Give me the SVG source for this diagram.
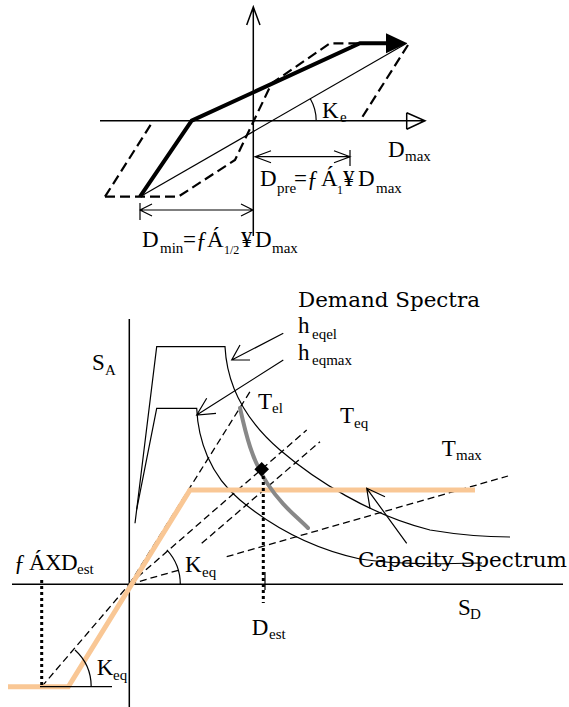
<svg xmlns="http://www.w3.org/2000/svg" width="569" height="707" viewBox="0 0 569 707">
<style>
.t{font-family:"Liberation Serif","Times New Roman",serif;font-size:23px;fill:#000}
.s{font-size:15px}
.w{font-family:"DejaVu Serif","Liberation Serif",serif;font-size:20.5px;fill:#000}
.ln{stroke:#000;stroke-width:1.5;fill:none}
.thin{stroke:#000;stroke-width:1.2;fill:none}
.dash{stroke:#000;stroke-width:1.3;stroke-dasharray:7 4;fill:none}
.tdash{stroke:#000;stroke-width:2.2;stroke-dasharray:10 5;fill:none}
.thick{stroke:#000;stroke-width:4;fill:none}
.dot{stroke:#000;stroke-width:3;stroke-dasharray:3 3;fill:none}
.cap{stroke:#F9C795;stroke-width:5;fill:none}
.gray{stroke:#888;stroke-width:4;fill:none;stroke-linecap:round}
</style>
<rect width="569" height="707" fill="#fff"/>
<!-- TOP HYSTERESIS -->
<g id="top-axes">
<path class="ln" d="M253.3,7 V236 M246.7,25 L253.3,7 L260,25"/>
<path class="ln" d="M100,120.7 H425 M406.7,112.7 L425,120.7 L406.7,129.3 M406.7,112.7 V129.3"/>
</g>
<g id="top-loop">
<path class="tdash" d="M105,196.7 L153.3,120.7"/>
<path class="tdash" d="M105,196.7 H178.3 L235,160 L271.7,83.3 L330,43.3 H360"/>
<path class="tdash" d="M408,45 L360,120.7"/>
<path class="thin" d="M140,196.7 L406.7,43.3"/>
<path class="thick" d="M140,196.7 L191.7,120.7 L360,43.3 H388"/>
<polygon points="386,33.3 407.3,43.3 386,53.3" fill="#000"/>
<path class="thin" d="M316.2,120.7 A44,44 0 0 0 310.3,98.8"/>
</g>
<g id="top-dims">
<path class="thin" d="M255,156.7 H350 M271,150.7 L255,156.7 L271,162.7 M334,150.7 L350,156.7 L334,162.7 M350,150 V166"/>
<path class="thin" d="M140,210 H253 M152,204 L140,210 L152,216 M241,204 L253,210 L241,216 M140,203 V220"/>
</g>
<g id="top-labels">
<text class="t" y="118"><tspan x="322">K</tspan><tspan class="s" x="340" y="122">e</tspan></text>
<text class="t" y="157"><tspan x="388">D</tspan><tspan class="s" x="405" y="161">max</tspan></text>
<text class="t" y="186"><tspan x="260">D</tspan><tspan class="s" x="277" y="193">pre</tspan><tspan x="294" y="186">=ƒ</tspan><tspan x="321">Á</tspan><tspan class="s" x="337" y="194" style="font-size:12px">1</tspan><tspan x="343" y="186">¥</tspan><tspan x="358">D</tspan><tspan class="s" x="376" y="193">max</tspan></text>
<text class="t" y="247"><tspan x="142">D</tspan><tspan class="s" x="160" y="253">min</tspan><tspan x="183" y="247">=ƒ</tspan><tspan x="207">Á</tspan><tspan class="s" x="224" y="254" style="font-size:12px">1/2</tspan><tspan x="241" y="247">¥</tspan><tspan x="255">D</tspan><tspan class="s" x="272" y="253">max</tspan></text>
</g>
<!-- BOTTOM ADRS -->
<g id="bottom-axes">
<path class="ln" d="M129.3,319 V707"/>
<path class="ln" d="M12,584.3 H563"/>
</g>
<g id="demand-spectra">
<path class="thin" d="M135,523.3 L156.7,346.7 H225 C227,385 245,420 280,450 S370,515 430,530 C460,535 490,537 510,537"/>
<path class="thin" d="M136.7,509.3 L156.7,408.3 H196.7 C198,440 210,475 240,500 S310,548 360,559 C400,565 440,564 482,563"/>
</g>
<g id="period-lines">
<path class="dash" d="M129.3,584.3 L251.7,389"/>
<path class="dash" d="M129.3,584.3 L306.7,430"/>
<path class="dash" d="M201.7,543.3 L320,441.7"/>
<path class="dash" d="M129.3,584.3 L181.7,569.3 M226.7,556.7 L508,476"/>
<path class="dash" d="M41.7,686.7 L129.3,584.3"/>
</g>
<g id="capacity">
<path class="cap" d="M8,686.7 H68.3 L190,490 H475"/>
<path class="gray" d="M240,408 C246,435 252,460 267,483 S295,515 308,528"/>
<polygon points="261.7,462 269,469.3 261.7,476.6 254.4,469.3" fill="#000"/>
</g>
<g id="estimate">
<path class="dot" d="M263.3,476 V603"/>
<path class="thin" d="M265,572 V590"/>
<path class="dot" d="M41.7,580 V686.7"/>
<path class="thin" d="M40,686.7 H112"/>
<path class="thin" d="M180.3,584.3 A51,51 0 0 0 166.9,549.8"/>
<path class="thin" d="M91.2,686.7 A49.5,49.5 0 0 0 75,650"/>
</g>
<g id="connectors">
<path class="thin" d="M283.3,333.3 L231.7,360 M240,345 L231.7,360 L250,360"/>
<path class="thin" d="M283.3,360 L196.7,415 M206.7,398.3 L196.7,415 L216,413.3"/>
<path class="thin" d="M406.7,543.3 L366.7,488.3 M370,508.3 L366.7,488.3 L385,496.7"/>
</g>
<g id="bottom-labels">
<text class="w" x="298" y="306.7" textLength="182" lengthAdjust="spacingAndGlyphs">Demand Spectra</text>
<text class="t" y="333.3"><tspan x="298">h</tspan><tspan class="s" x="312" y="339">eqel</tspan></text>
<text class="t" y="360"><tspan x="298">h</tspan><tspan class="s" x="312" y="365">eqmax</tspan></text>
<text class="t" y="370"><tspan x="92">S</tspan><tspan class="s" x="105" y="375">A</tspan></text>
<text class="t" y="409.3"><tspan x="258">T</tspan><tspan class="s" x="272" y="413">el</tspan></text>
<text class="t" y="423.3"><tspan x="340">T</tspan><tspan class="s" x="354" y="428">eq</tspan></text>
<text class="t" y="456"><tspan x="441.7">T</tspan><tspan class="s" x="456" y="460">max</tspan></text>
<text class="w" x="358" y="566.7" textLength="209" lengthAdjust="spacingAndGlyphs">Capacity Spectrum</text>
<text class="t" y="615"><tspan x="458">S</tspan><tspan class="s" x="470" y="619">D</tspan></text>
<text class="t" y="635"><tspan x="251.7">D</tspan><tspan class="s" x="269" y="639">est</tspan></text>
<text class="t" y="571.7"><tspan x="185">K</tspan><tspan class="s" x="202" y="577">eq</tspan></text>
<text class="t" y="675"><tspan x="96.7">K</tspan><tspan class="s" x="113" y="680">eq</tspan></text>
<text class="t" y="570"><tspan x="14">ƒ</tspan><tspan x="29">Á</tspan><tspan x="45">X</tspan><tspan x="61">D</tspan><tspan class="s" x="77" y="574">est</tspan></text>
</g>
</svg>
